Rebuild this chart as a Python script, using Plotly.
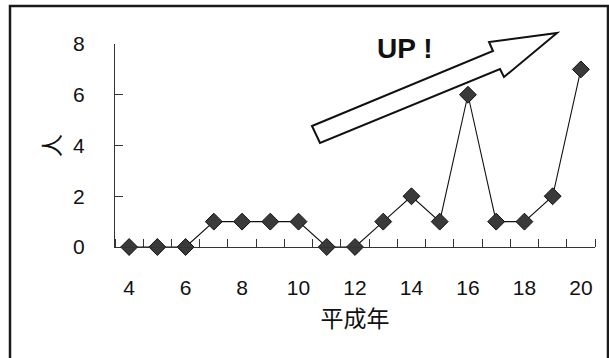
import plotly.graph_objects as go

# Heisei years and head counts
years = [4, 5, 6, 7, 8, 9, 10, 11, 12, 13, 14, 15, 16, 17, 18, 19, 20]
counts = [0, 0, 0, 1, 1, 1, 1, 0, 0, 1, 2, 1, 6, 1, 1, 2, 7]
x_ticks = [4, 6, 8, 10, 12, 14, 16, 18, 20]
y_ticks = [0, 2, 4, 6, 8]

W, H = 609, 358
L, R, T, B = 115, 14, 44, 111
PW, PH = W - L - R, H - T - B


def px(xp, yp):
    """Pixel position -> paper coordinates of the plot area."""
    return (xp - L) / PW, (H - B - yp) / PH


fig = go.Figure()
fig.add_trace(go.Scatter(
    x=years, y=counts, mode="lines+markers",
    line=dict(color="#111111", width=1.1),
    marker=dict(symbol="diamond", size=13, color="#3a3a3a",
                line=dict(color="#111111", width=1)),
    cliponaxis=False, showlegend=False,
))

# Hollow "UP" arrow
arrow_px = [(312, 126), (493, 51), (489, 42), (557, 33),
            (504, 77), (500, 69), (320, 143)]
pts = [px(a, b) for a, b in arrow_px]
path = "M " + " L ".join(f"{a:.4f},{b:.4f}" for a, b in pts) + " Z"
fig.add_shape(type="path", path=path, xref="paper", yref="paper",
              line=dict(color="#111111", width=2), fillcolor="white")

# Outer frame
fx0, fy0 = px(10, 6)
fx1, fy1 = px(608, 362)
fig.add_shape(type="rect", xref="paper", yref="paper",
              x0=fx0, y0=fy1, x1=fx1, y1=fy0,
              line=dict(color="#1a1a1a", width=2.5), layer="below")

ux, uy = px(405, 49)
fig.add_annotation(x=ux, y=uy, xref="paper", yref="paper", text="<b>UP !</b>",
                   xanchor="center", yanchor="middle", showarrow=False,
                   font=dict(family="Liberation Sans, Arial, sans-serif",
                             size=28, color="#111111"))

font_main = "Liberation Sans, Arial, Noto Sans CJK JP, sans-serif"
fig.update_layout(
    width=W, height=H,
    margin=dict(l=L, r=R, t=T, b=B, pad=0),
    paper_bgcolor="white", plot_bgcolor="white",
    font=dict(family=font_main, size=21, color="#111111"),
    xaxis=dict(
        range=[3.5, 20.5], tickmode="array", tickvals=x_ticks,
        ticktext=[str(v) for v in x_ticks],
        ticks="", showgrid=False, zeroline=False,
        showline=True, linecolor="#333333", linewidth=1,
        ticklabelstandoff=22,
        minor=dict(tickmode="linear", tick0=3.5, dtick=1, ticks="inside",
                   ticklen=8, tickcolor="#333333", tickwidth=1),
        title=dict(text="平成年", standoff=12,
                   font=dict(family="Noto Sans CJK JP, sans-serif", size=23)),
    ),
    yaxis=dict(
        range=[0, 8], tickmode="array", tickvals=y_ticks,
        ticks="inside", ticklen=8, tickcolor="#333333", tickwidth=1,
        showgrid=False, zeroline=False,
        showline=True, linecolor="#333333", linewidth=1,
        ticklabelstandoff=25,
        title=dict(text="人", standoff=6,
                   font=dict(family="Noto Sans CJK JP, sans-serif", size=23)),
    ),
)

fig.write_html("out.html")
